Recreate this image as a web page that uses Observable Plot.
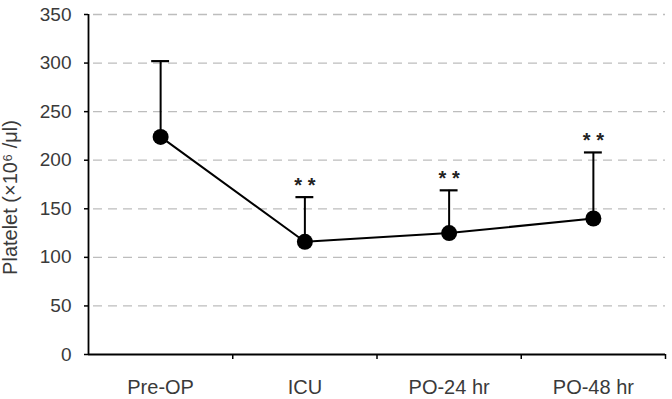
<!DOCTYPE html>
<html>
<head>
<meta charset="utf-8">
<script src="https://cdn.jsdelivr.net/npm/d3@7"></script>
<script src="https://cdn.jsdelivr.net/npm/@observablehq/plot@0.6"></script>
<style>
  html, body { margin: 0; padding: 0; background: #fff; }
  #chart svg { display: block; }
</style>
</head>
<body>
<div id="chart"></div>
<script>
// Platelet count over the perioperative course (mean + SD)
const categories = ["Pre-OP", "ICU", "PO-24 hr", "PO-48 hr"];
const means = [224, 116, 125, 140];
const sds = [78, 46, 44, 68];
const stars = ["", "* *", "* *", "* *"];
const yTicks = [0, 50, 100, 150, 200, 250, 300, 350];
const yTitle = "Platelet (×10⁶ /μl)";

const rows = categories.map((c, i) => ({
  pos: i + 0.5,
  category: c,
  mean: means[i],
  top: means[i] + sds[i],
  star: stars[i]
}));

const CAP = 0.062; // half-width of the error-bar cap, in category units
const FONT = "Arial, 'Liberation Sans', Helvetica, sans-serif";

const chart = Plot.plot({
  width: 672,
  height: 399,
  marginLeft: 88,
  marginRight: 7,
  marginTop: 14,
  marginBottom: 45,
  style: { fontFamily: FONT, color: "#3a3a3a", background: "#fff" },
  x: { type: "linear", domain: [0, categories.length] },
  y: { domain: [0, 350] },
  marks: [
    // dashed horizontal gridlines
    Plot.ruleY(yTicks.filter(v => v > 0), {
      stroke: "#bdbdbd", strokeWidth: 1.3, strokeDasharray: "9,6", strokeDashoffset: -5
    }),
    // y axis: ticks and labels
    Plot.axisY({
      ticks: yTicks, tickSize: 4, tickPadding: 13, fontSize: 19,
      stroke: "#000", strokeWidth: 1.5, label: null
    }),
    // y axis title
    Plot.text([yTitle], {
      frameAnchor: "left", rotate: -90, dx: -78, dy: 13,
      fontSize: 20, fill: "#3a3a3a", textAnchor: "middle", lineAnchor: "middle"
    }),
    // x axis: boundary ticks between categories
    Plot.axisX({
      ticks: [1, 2, 3, 4], tickSize: 5, tickFormat: () => "",
      stroke: "#000", strokeWidth: 1.5, label: null
    }),
    // x axis: category names centred in each slot
    Plot.axisX({
      ticks: rows.map(d => d.pos), tickSize: 0, tickPadding: 25,
      tickFormat: v => categories[Math.round(v - 0.5)], fontSize: 20, label: null
    }),
    // axis lines
    Plot.ruleX([0], { stroke: "#000", strokeWidth: 1.8 }),
    Plot.ruleY([0], { stroke: "#000", strokeWidth: 1.8 }),
    // upper error bars with caps
    Plot.ruleX(rows, { x: "pos", y1: "mean", y2: "top", stroke: "#000", strokeWidth: 2 }),
    Plot.ruleY(rows, { y: "top", x1: d => d.pos - CAP, x2: d => d.pos + CAP, stroke: "#000", strokeWidth: 2.2 }),
    // mean line and markers
    Plot.line(rows, { x: "pos", y: "mean", stroke: "#000", strokeWidth: 2 }),
    Plot.dot(rows, { x: "pos", y: "mean", r: 8, fill: "#000", stroke: "none" }),
    // significance markers
    Plot.text(rows, {
      x: "pos", y: "top", text: "star", dy: -5, lineAnchor: "bottom",
      fontSize: 20, fontWeight: "bold", fill: "#222"
    })
  ]
});

document.getElementById("chart").appendChild(chart);
</script>
</body>
</html>
